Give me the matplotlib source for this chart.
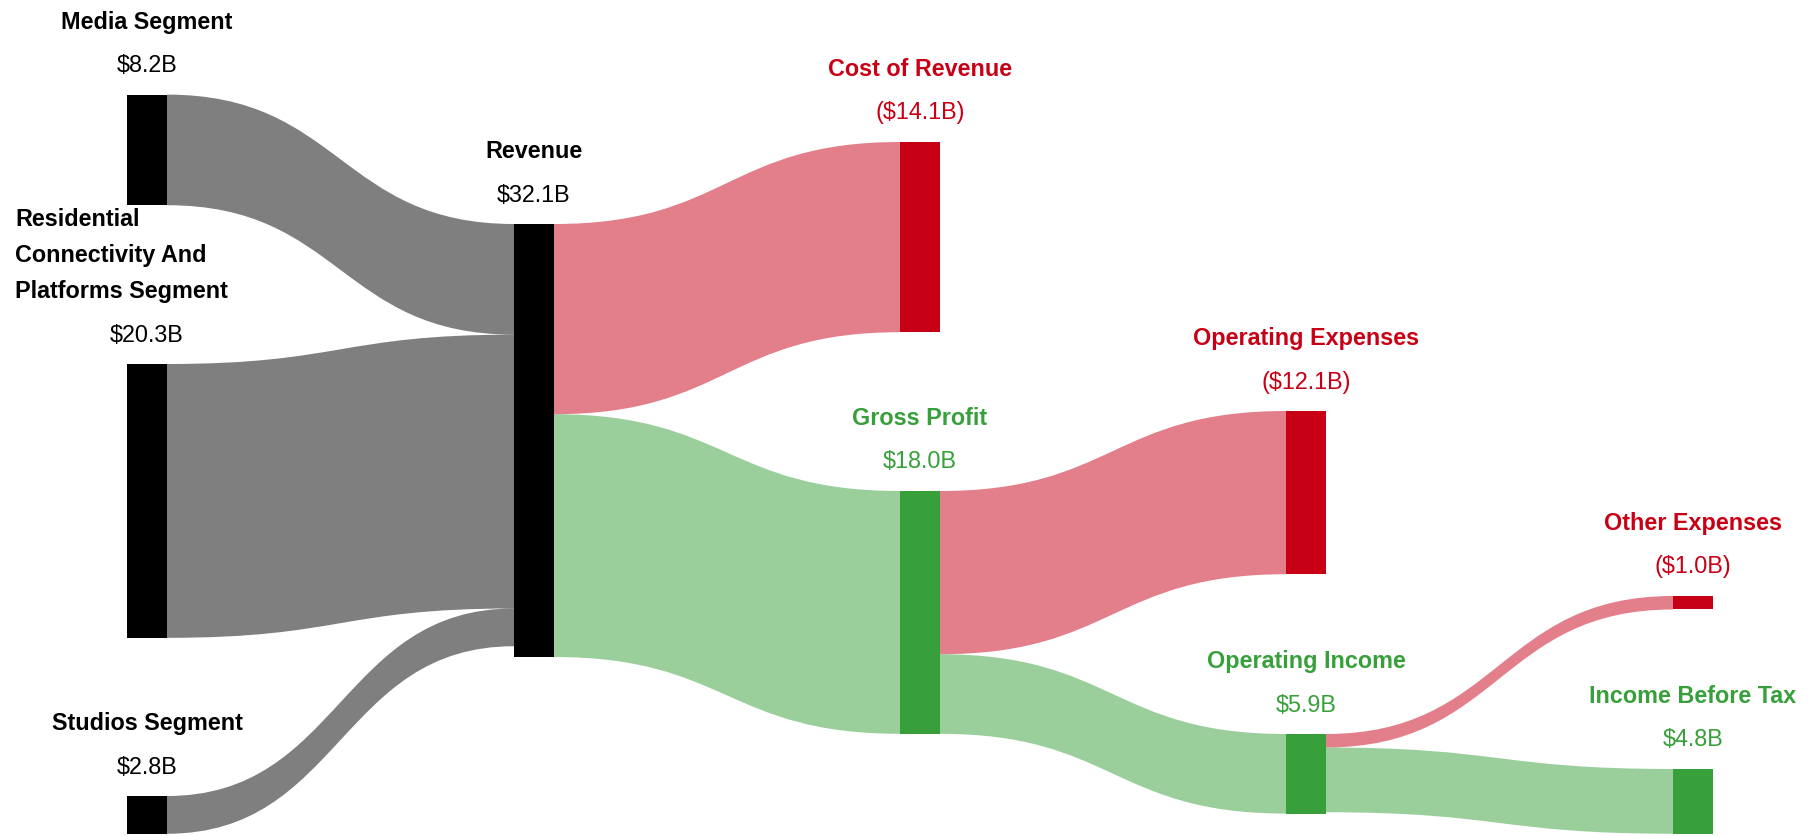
import textwrap
import matplotlib
matplotlib.use("Agg")
import matplotlib.pyplot as plt
from matplotlib.path import Path
from matplotlib.patches import PathPatch, Rectangle

# ---------------- data ----------------
node_names = ["Media Segment",
              "Residential Connectivity And Platforms Segment",
              "Studios Segment",
              "Revenue",
              "Cost of Revenue",
              "Gross Profit",
              "Operating Expenses",
              "Operating Income",
              "Other Expenses",
              "Income Before Tax"]
node_values = [8.2, 20.3, 2.8, 32.1, 14.1, 18.0, 12.1, 5.9, 1.0, 4.8]
node_kind = ["seg", "seg", "seg", "rev", "cost", "profit", "cost", "profit", "cost", "profit"]

link_source = [0, 1, 2, 3, 3, 5, 5, 7, 7]
link_target = [3, 3, 3, 4, 5, 6, 7, 8, 9]
link_value = [8.2, 20.3, 2.8, 14.1, 18.0, 12.1, 5.9, 1.0, 4.8]

# ---------------- layout / style ----------------
W, H = 1809, 836
col_x = [127, 514, 900, 1286, 1673]
node_col = [0, 0, 0, 1, 2, 2, 3, 3, 4, 4]
node_top = [94.6, 364, 796, 224, 142, 491, 411, 734, 596, 769]
node_w = 40
px_per_b = 13.49
colors = {"seg": "#000000", "rev": "#000000", "cost": "#C80016", "profit": "#37A03A"}
FS = 16.8
FONT = "Liberation Sans"

fig = plt.figure(figsize=(W / 100, H / 100), dpi=100)
ax = fig.add_axes([0, 0, 1, 1])
ax.set_xlim(0, W)
ax.set_ylim(H, 0)
ax.axis("off")

def fmt(v, kind):
    s = f"${v:.1f}B"
    return f"({s})" if kind == "cost" else s

# links
out_off = [0.0] * len(node_names)
in_off = [0.0] * len(node_names)
for s, t, v in zip(link_source, link_target, link_value):
    h = v * px_per_b
    x0 = col_x[node_col[s]] + node_w
    x1 = col_x[node_col[t]]
    y0 = node_top[s] + out_off[s]
    y1 = node_top[t] + in_off[t]
    out_off[s] += h
    in_off[t] += h
    xm = (x0 + x1) / 2
    verts = [(x0, y0), (xm, y0), (xm, y1), (x1, y1),
             (x1, y1 + h), (xm, y1 + h), (xm, y0 + h), (x0, y0 + h), (x0, y0)]
    codes = [Path.MOVETO, Path.CURVE4, Path.CURVE4, Path.CURVE4,
             Path.LINETO, Path.CURVE4, Path.CURVE4, Path.CURVE4, Path.CLOSEPOLY]
    ax.add_patch(PathPatch(Path(verts, codes), facecolor=colors[node_kind[t]],
                           alpha=0.5, edgecolor="none", zorder=1))

# nodes and labels
fig.canvas.draw()
renderer = fig.canvas.get_renderer()
for i, (name, v, kind) in enumerate(zip(node_names, node_values, node_kind)):
    x = col_x[node_col[i]]
    top = node_top[i]
    c = colors[kind]
    ax.add_patch(Rectangle((x, top), node_w, v * px_per_b, facecolor=c,
                           edgecolor="none", zorder=2))
    cx = x + node_w / 2
    ax.text(cx, top - 22.5, fmt(v, kind), ha="center", va="baseline",
            fontsize=FS, color=c, family=FONT)
    lines = textwrap.wrap(name, 17) if len(name) > 20 else [name]
    n = len(lines)
    for j, ln in enumerate(lines):
        yb = top - 66 - (n - 1 - j) * 35.8
        if n > 1:
            ax.text(15, yb, ln, ha="left", va="baseline", fontsize=FS,
                    fontweight="bold", color=c, family=FONT)
        else:
            t = ax.text(cx, yb, ln, ha="center", va="baseline", fontsize=FS,
                        fontweight="bold", color=c, family=FONT)
            bb = t.get_window_extent(renderer)
            if bb.x1 > W - 13:
                t.set_position((W - 13, yb))
                t.set_ha("right")

fig.savefig("out.png", dpi=100, facecolor="white")
